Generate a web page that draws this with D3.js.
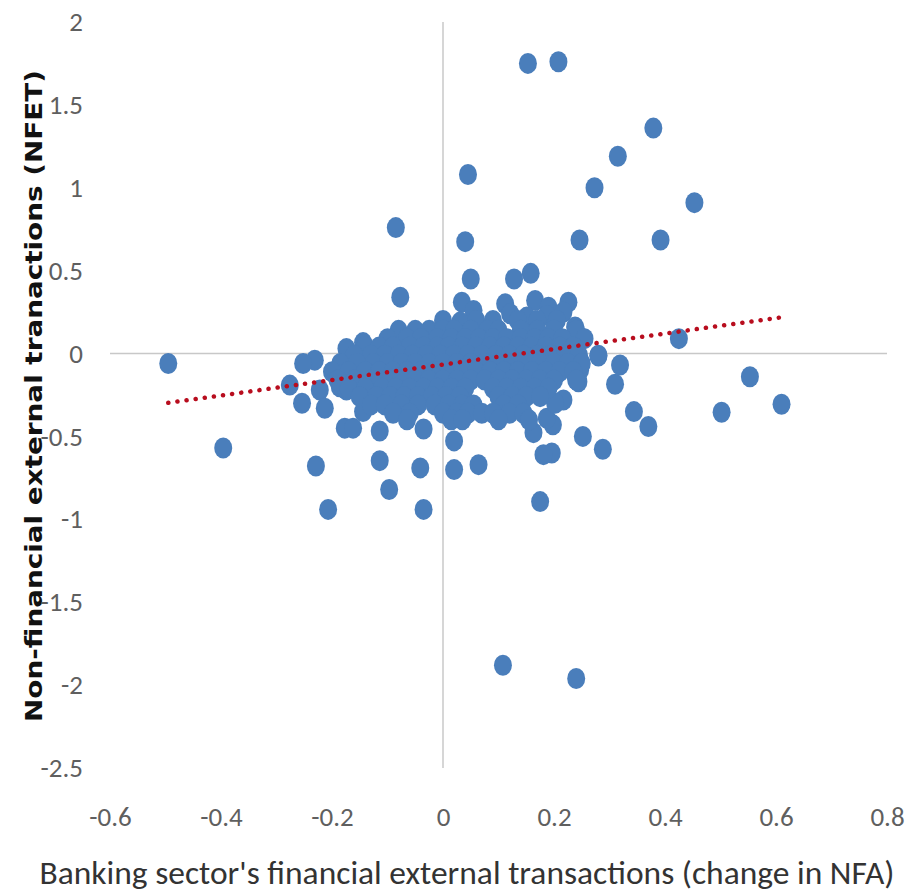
<!DOCTYPE html>
<html>
<head>
<meta charset="utf-8">
<script src="https://cdn.jsdelivr.net/npm/d3@7"></script>
<style>
  body { margin: 0; background: #fff; }
  .tick text { font-family: Carlito, 'Liberation Sans', Arial, sans-serif; font-size: 27px; fill: #5f5f5f; }
</style>
</head>
<body>
<div id="chart"></div>
<script>
var width = 912,
    height = 893;

// x ticks / y ticks
var xTicks = [-0.6, -0.4, -0.2, 0, 0.2, 0.4, 0.6, 0.8];
var yTicks = [2, 1.5, 1, 0.5, 0, -0.5, -1, -1.5, -2, -2.5];

// linear trend
var trendFrom = -0.495,
    trendTo = 0.61,
    trendIntercept = -0.066,
    trendSlope = 0.467;

// scattered points (change in NFA, NFET)
var outerPoints = [
  [0.153,1.75],[0.208,1.76],[0.379,1.36],[0.315,1.19],[0.273,1.00],[0.045,1.08],[0.453,0.91],
  [-0.085,0.76],[0.040,0.675],[0.246,0.685],[0.392,0.685],[0.050,0.45],[0.128,0.45],[0.158,0.484],
  [-0.077,0.34],[0.034,0.31],[0.112,0.30],[0.166,0.32],[0.226,0.31],[0.19,0.28],[0.055,0.26],
  [0.121,0.24],[0.217,0.25],[0.151,0.22],[0.187,0.23],[0.238,0.16],[0.253,0.09],[0.193,0.11],
  [0.031,0.19],
  [-0.495,-0.06],[-0.396,-0.57],[-0.231,-0.04],[-0.252,-0.06],[-0.276,-0.19],[-0.254,-0.30],
  [-0.222,-0.22],[-0.213,-0.33],[-0.174,0.03],[-0.144,0.066],[-0.186,-0.20],[-0.174,-0.22],
  [-0.177,-0.45],[-0.162,-0.45],[-0.114,-0.467],[-0.144,-0.35],
  [-0.229,-0.678],[-0.207,-0.94],[-0.114,-0.646],[-0.097,-0.82],[-0.041,-0.69],[-0.035,-0.94],
  [-0.035,-0.455],[0.02,-0.70],[0.02,-0.527],[0.064,-0.67],[0.108,-1.88],[0.240,-1.96],
  [0.175,-0.893],[0.196,-0.60],[0.181,-0.61],[0.163,-0.477],[0.198,-0.43],[0.187,-0.39],
  [0.217,-0.28],[0.202,-0.30],[0.252,-0.50],[0.288,-0.577],[0.344,-0.35],[0.37,-0.44],
  [0.502,-0.354],[0.61,-0.306],[0.553,-0.14],[0.425,0.09],[0.31,-0.185],[0.319,-0.069],
  [0.28,-0.015],[0.244,-0.17],[0.247,-0.10]
];

// the dense middle of the cloud, row by row
var clusterRows = [
  [0.20,  [0.0, 0.06, 0.09, 0.135, 0.17, 0.205]],
  [0.14,  [-0.08, -0.05, -0.025, 0.0, 0.02, 0.05, 0.08, 0.1, 0.14, 0.17, 0.2, 0.24]],
  [0.09,  [-0.1, -0.065, -0.04, -0.01, 0.015, 0.04, 0.065, 0.09, 0.115, 0.14, 0.165, 0.19, 0.215, 0.255]],
  [0.04,  [-0.14, -0.115, -0.09, -0.06, -0.035, -0.01, 0.01, 0.035, 0.06, 0.085, 0.11, 0.135, 0.16, 0.185, 0.21, 0.235]],
  [-0.01, [-0.16, -0.13, -0.105, -0.08, -0.055, -0.03, -0.005, 0.02, 0.045, 0.07, 0.095, 0.12, 0.145, 0.17, 0.195, 0.22, 0.245, 0.28]],
  [-0.06, [-0.185, -0.155, -0.125, -0.1, -0.075, -0.05, -0.025, 0.0, 0.025, 0.05, 0.075, 0.1, 0.125, 0.15, 0.175, 0.2, 0.225, 0.25]],
  [-0.11, [-0.2, -0.17, -0.14, -0.115, -0.09, -0.065, -0.04, -0.015, 0.01, 0.035, 0.06, 0.085, 0.11, 0.135, 0.16, 0.185, 0.21, 0.235]],
  [-0.16, [-0.19, -0.16, -0.13, -0.1, -0.075, -0.05, -0.025, 0.0, 0.025, 0.05, 0.075, 0.1, 0.125, 0.15, 0.175, 0.2, 0.24]],
  [-0.21, [-0.17, -0.14, -0.11, -0.085, -0.06, -0.035, -0.01, 0.015, 0.04, 0.09, 0.115, 0.14, 0.165, 0.19]],
  [-0.26, [-0.15, -0.12, -0.095, -0.07, -0.045, -0.02, 0.005, 0.03, 0.1, 0.125, 0.15, 0.175]],
  [-0.31, [-0.13, -0.105, -0.075, -0.045, -0.015, 0.01, 0.035, 0.055, 0.11, 0.135]],
  [-0.36, [-0.09, -0.06, 0.0, 0.025, 0.045, 0.07, 0.09, 0.12, 0.145]],
  [-0.40, [-0.065, 0.015, 0.035, 0.1, 0.155]]
];

var points = outerPoints.slice();
clusterRows.forEach(function(row) {
  row[1].forEach(function(xv) { points.push([xv, row[0]]); });
});

var svg = d3.select("#chart")
    .append("svg")
    .attr("width", width)
    .attr("height", height);

var x = d3.scaleLinear().domain([-0.6, 0.8]).range([110, 887]);
var y = d3.scaleLinear().domain([-2.5, 2]).range([768, 22]);

// axis titles first, the tick labels sit on top of the y title
svg.append("text")
    .attr("x", 467)
    .attr("y", 884)
    .attr("text-anchor", "middle")
    .attr("textLength", 855)
    .attr("lengthAdjust", "spacingAndGlyphs")
    .style("font-family", "Carlito, 'Liberation Sans', Arial, sans-serif")
    .style("font-size", "32px")
    .style("fill", "#333")
    .text("Banking sector's financial external transactions (change in NFA)");

svg.append("text")
    .attr("transform", "translate(42,396) rotate(-90)")
    .attr("text-anchor", "middle")
    .attr("textLength", 652)
    .attr("lengthAdjust", "spacingAndGlyphs")
    .style("font-family", "'DejaVu Sans', Verdana, sans-serif")
    .style("font-weight", "bold")
    .style("font-size", "23px")
    .style("fill", "#111")
    .text("Non-financial external tranactions (NFET)");

// zero lines
svg.append("line")
    .attr("x1", x(0)).attr("x2", x(0))
    .attr("y1", y(2)).attr("y2", y(-2.5))
    .attr("stroke", "#c8c8c8").attr("stroke-width", 1.5);
svg.append("line")
    .attr("x1", x(-0.6)).attr("x2", x(0.8))
    .attr("y1", y(0)).attr("y2", y(0))
    .attr("stroke", "#c8c8c8").attr("stroke-width", 1.5);

var yAxis = svg.append("g")
    .attr("transform", "translate(90,0)")
    .call(d3.axisLeft(y).tickValues(yTicks).tickSize(0).tickPadding(7)
      .tickFormat(function(d) { return String(d); }));
yAxis.select(".domain").remove();

var xAxis = svg.append("g")
    .attr("transform", "translate(0,804)")
    .call(d3.axisBottom(x).tickValues(xTicks).tickSize(0).tickPadding(3)
      .tickFormat(function(d) { return String(d); }));
xAxis.select(".domain").remove();

svg.append("g")
  .selectAll("ellipse")
  .data(points)
  .enter().append("ellipse")
    .attr("cx", function(d) { return x(d[0]); })
    .attr("cy", function(d) { return y(d[1]); })
    .attr("rx", 9)
    .attr("ry", 10.5)
    .attr("fill", "#4a7ebb");

// dotted trend line
svg.append("line")
    .attr("x1", x(trendFrom)).attr("y1", y(trendIntercept + trendSlope * trendFrom))
    .attr("x2", x(trendTo)).attr("y2", y(trendIntercept + trendSlope * trendTo))
    .attr("stroke", "#b80d1e")
    .attr("stroke-width", 4.5)
    .attr("stroke-linecap", "round")
    .attr("stroke-dasharray", "0.1,9.1");
</script>
</body>
</html>
